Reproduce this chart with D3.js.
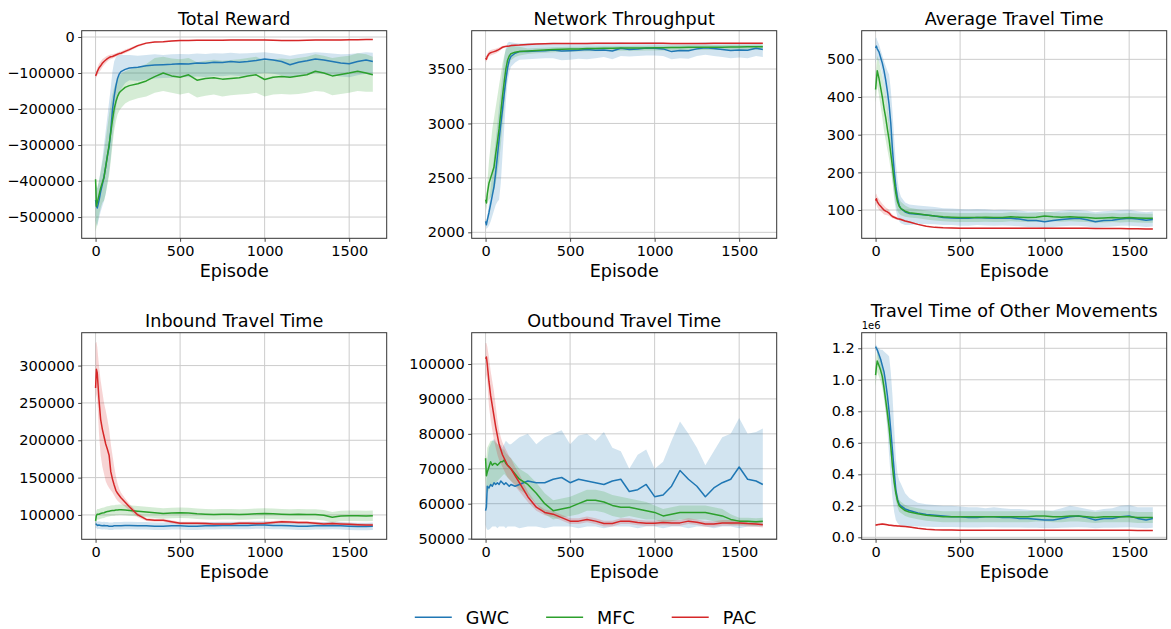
<!DOCTYPE html>
<html><head><meta charset="utf-8">
<script src="https://cdn.jsdelivr.net/npm/d3@7"></script>
<style>
body{margin:0;background:#fff}
svg{display:block}
text{font-family:"DejaVu Sans","Liberation Sans",sans-serif;fill:#000}
</style>
</head><body>
<svg id="chart" width="1171" height="629"></svg>
<script>
// ---------------- DATA ----------------
const episodes = [0,5,10,20,30,40,50,60,70,80,90,100,110,120,130,140,150,175,200,250,300,350,400,450,500,550,600,650,700,750,800,850,900,950,1000,1050,1100,1150,1200,1250,1300,1350,1400,1450,1500,1550,1600,1640];
const seriesNames = ["GWC","MFC","PAC"];
const xTicks = [0,500,1000,1500];

// Total Reward
const rewardTicks = [0,-100000,-200000,-300000,-400000,-500000];
const rewardGWC = [-453000,-470000,-475000,-455000,-430000,-410000,-388000,-360000,-330000,-305000,-260000,-202000,-165000,-137000,-115000,-103000,-96000,-90000,-86000,-84000,-80000,-78000,-77000,-76000,-74000,-75000,-72000,-73000,-70000,-71000,-68000,-70000,-68000,-65000,-61000,-64000,-68000,-77000,-70000,-66000,-61000,-64000,-68000,-72000,-74000,-68000,-64000,-68000];
const rewardGWCHi = [-400000,-415000,-420000,-400000,-370000,-340000,-300000,-260000,-220000,-180000,-140000,-95000,-68000,-56000,-52000,-50000,-50000,-50000,-50000,-52000,-50000,-48000,-50000,-48000,-47000,-48000,-46000,-47000,-45000,-46000,-44000,-46000,-45000,-44000,-42000,-45000,-48000,-52000,-48000,-45000,-42000,-44000,-46000,-48000,-47000,-45000,-42000,-44000];
const rewardGWCLo = [-510000,-520000,-525000,-505000,-485000,-470000,-455000,-435000,-405000,-375000,-335000,-285000,-240000,-200000,-170000,-155000,-145000,-128000,-120000,-122000,-118000,-115000,-114000,-113000,-111000,-112000,-110000,-111000,-108000,-109000,-106000,-108000,-106000,-103000,-100000,-102000,-106000,-113000,-108000,-104000,-100000,-102000,-106000,-110000,-112000,-106000,-102000,-106000];
const rewardMFC = [-395000,-470000,-460000,-440000,-420000,-405000,-390000,-360000,-330000,-300000,-265000,-230000,-200000,-180000,-165000,-155000,-150000,-140000,-135000,-130000,-122000,-110000,-100000,-108000,-112000,-105000,-120000,-115000,-113000,-117000,-115000,-113000,-108000,-105000,-118000,-112000,-110000,-112000,-108000,-105000,-95000,-100000,-108000,-104000,-100000,-95000,-100000,-105000];
const rewardMFCHi = [-385000,-410000,-420000,-400000,-375000,-350000,-320000,-285000,-250000,-215000,-185000,-160000,-140000,-125000,-115000,-108000,-102000,-95000,-90000,-85000,-75000,-58000,-55000,-60000,-62000,-58000,-70000,-66000,-63000,-66000,-64000,-62000,-58000,-55000,-65000,-62000,-60000,-62000,-58000,-55000,-48000,-52000,-58000,-55000,-52000,-45000,-48000,-55000];
const rewardMFCLo = [-540000,-530000,-520000,-495000,-475000,-460000,-455000,-435000,-410000,-385000,-345000,-300000,-260000,-235000,-215000,-205000,-198000,-185000,-178000,-170000,-165000,-155000,-150000,-155000,-160000,-155000,-168000,-163000,-160000,-165000,-162000,-160000,-158000,-155000,-165000,-160000,-158000,-160000,-158000,-155000,-150000,-152000,-162000,-158000,-155000,-150000,-152000,-152000];
const rewardPAC = [-108000,-103000,-96000,-86000,-80000,-73000,-68000,-64000,-60000,-57000,-55000,-54000,-52000,-50000,-48000,-46000,-45000,-40000,-35000,-24000,-17000,-14000,-13000,-11000,-10000,-9500,-9000,-9000,-9000,-9000,-8500,-8500,-8500,-8500,-8000,-9000,-10000,-10000,-9500,-9000,-8000,-8000,-8000,-8000,-7500,-7500,-7000,-7000];
const rewardPACHi = [-102000,-95000,-86000,-74000,-68000,-62000,-58000,-55000,-52000,-50000,-48500,-48000,-46500,-45000,-43000,-41000,-40000,-35000,-30500,-20500,-14500,-12500,-11500,-9500,-8500,-8000,-7500,-7500,-7500,-7500,-7000,-7000,-7000,-7000,-6500,-7500,-8500,-8500,-8000,-7500,-6500,-6500,-6500,-6500,-6000,-6000,-5500,-5500];
const rewardPACLo = [-114000,-111000,-106000,-98000,-92000,-84000,-78000,-73000,-68000,-64000,-61500,-60000,-57500,-55000,-53000,-51000,-50000,-45000,-39500,-27500,-19500,-15500,-14500,-12500,-11500,-11000,-10500,-10500,-10500,-10500,-10000,-10000,-10000,-10000,-9500,-10500,-11500,-11500,-11000,-10500,-9500,-9500,-9500,-9500,-9000,-9000,-8500,-8500];

// Network Throughput
const tpTicks = [2000,2500,3000,3500];
const tpGWC = [2100,2070,2110,2180,2260,2340,2420,2550,2700,2850,2990,3125,3270,3400,3510,3580,3615,3645,3660,3662,3665,3668,3675,3665,3668,3672,3680,3672,3675,3665,3690,3680,3685,3692,3690,3685,3660,3670,3668,3685,3695,3688,3680,3670,3675,3672,3690,3680];
const tpGWCHi = [2130,2110,2150,2260,2400,2550,2700,2850,3000,3150,3300,3450,3600,3700,3740,3750,3745,3738,3735,3738,3740,3740,3742,3740,3738,3740,3742,3740,3742,3740,3745,3742,3742,3745,3745,3742,3735,3738,3738,3742,3745,3742,3740,3738,3738,3736,3740,3725];
const tpGWCLo = [2060,2030,2040,2060,2100,2150,2200,2250,2280,2300,2450,2700,2950,3200,3380,3470,3520,3560,3585,3590,3595,3600,3600,3580,3585,3595,3590,3600,3610,3590,3620,3615,3620,3625,3625,3620,3590,3600,3595,3620,3630,3620,3610,3600,3605,3600,3620,3610];
const tpMFC = [2300,2270,2350,2450,2500,2550,2600,2720,2830,2950,3100,3250,3380,3500,3580,3620,3640,3655,3660,3665,3670,3675,3680,3682,3685,3685,3688,3688,3690,3690,3692,3692,3693,3694,3695,3695,3697,3698,3700,3700,3700,3700,3700,3702,3703,3704,3705,3705];
const tpMFCHi = [2350,2330,2450,2650,2800,2950,3050,3150,3250,3350,3450,3550,3620,3680,3700,3710,3715,3710,3705,3688,3692,3696,3700,3702,3705,3705,3708,3708,3710,3710,3712,3712,3713,3714,3715,3715,3717,3718,3720,3720,3720,3720,3720,3722,3723,3724,3725,3725];
const tpMFCLo = [2250,2200,2260,2300,2320,2350,2380,2450,2550,2650,2800,2980,3150,3330,3460,3540,3580,3610,3625,3638,3645,3650,3655,3657,3660,3660,3663,3663,3665,3665,3667,3667,3668,3669,3670,3670,3672,3673,3675,3675,3675,3675,3675,3677,3678,3679,3680,3680];
const tpPAC = [3600,3590,3615,3640,3650,3655,3660,3665,3672,3680,3690,3700,3705,3708,3710,3712,3715,3718,3720,3726,3730,3732,3734,3734,3735,3735,3735,3736,3736,3736,3736,3736,3736,3736,3736,3736,3735,3735,3735,3735,3735,3736,3736,3736,3736,3736,3736,3736];
const tpPACHi = [3620,3615,3640,3665,3675,3680,3685,3687,3692,3698,3705,3712,3715,3718,3718,3720,3723,3725,3726,3731,3735,3737,3739,3739,3740,3740,3740,3741,3741,3741,3741,3741,3741,3741,3741,3741,3740,3740,3740,3740,3740,3741,3741,3741,3741,3741,3741,3741];
const tpPACLo = [3580,3565,3590,3615,3625,3630,3635,3643,3652,3662,3675,3688,3695,3698,3702,3704,3707,3711,3714,3721,3725,3727,3729,3729,3730,3730,3730,3731,3731,3731,3731,3731,3731,3731,3731,3731,3730,3730,3730,3730,3730,3731,3731,3731,3731,3731,3731,3731];

// Average Travel Time
const attTicks = [100,200,300,400,500];
const attGWC = [530,535,528,520,505,490,470,445,415,380,330,260,205,162,130,112,104,95,91,89,87,84,80,79,78,78,80,79,78,79,78,76,72,72,69,72,75,77,78,74,69,72,73,76,78,76,73,75];
const attGWCHi = [555,558,550,540,525,510,495,482,470,460,420,360,290,225,180,150,135,120,115,112,110,108,105,104,103,102,103,102,100,101,100,99,96,96,94,96,98,100,100,98,94,97,98,100,101,97,94,96];
const attGWCLo = [490,500,500,495,480,460,430,400,360,310,250,180,130,100,80,70,65,60,60,62,63,62,60,60,58,58,60,59,58,59,58,57,55,55,53,55,57,58,58,56,53,55,56,58,58,57,55,56];
const attMFC = [420,445,470,450,425,400,370,345,315,286,250,215,178,144,122,110,104,97,93,90,87,84,82,81,80,80,80,81,80,80,82,81,80,81,84,82,81,82,81,80,78,79,80,79,80,79,78,78];
const attMFCHi = [455,485,510,495,475,455,430,405,370,336,295,255,213,174,147,130,122,112,106,102,99,96,94,93,92,92,92,93,92,92,94,93,92,93,96,94,93,94,93,92,90,91,92,91,92,91,90,90];
const attMFCLo = [385,405,430,405,375,345,310,285,260,236,205,175,143,114,97,90,86,82,80,78,75,72,70,69,68,68,68,69,68,68,70,69,68,69,72,70,69,70,69,68,66,67,68,67,68,67,66,66];
const attPAC = [125,130,122,115,110,105,100,97,95,92,87,83,81,79,77,76,75,71,68,62,57,54,53,52.5,52,52,52,52,52,52,52,52,52,52,52,52,52,52,52,51.5,51,51,51,51,50.5,50.5,50,50];
const attPACHi = [139,144,136,129,123,117,112,107,104,100,93,88,85,83,80,79,78,73.5,70,63.5,58.5,55.5,54.5,54,53.5,53.5,53.5,53.5,53.5,53.5,53.5,53.5,53.5,53.5,53.5,53.5,53.5,53.5,53.5,53,52.5,52.5,52.5,52.5,52,52,51.5,51.5];
const attPACLo = [111,116,108,101,97,93,88,87,86,84,81,78,77,75,74,73,72,68.5,66,60.5,55.5,52.5,51.5,51,50.5,50.5,50.5,50.5,50.5,50.5,50.5,50.5,50.5,50.5,50.5,50.5,50.5,50.5,50.5,50,49.5,49.5,49.5,49.5,49,49,48.5,48.5];

// Inbound Travel Time
const inTicks = [100000,150000,200000,250000,300000];
const inGWC = [88000,87500,86000,86500,86000,85500,86000,85500,85500,85000,85000,85000,85500,85500,85500,85500,85500,86000,86000,85500,85500,85000,85000,85500,85500,85000,85000,85500,85500,86000,86000,86000,86000,86500,86500,86000,86000,85500,85000,85000,85500,85500,86000,85500,85000,84500,84500,85000];
const inGWCHi = [93000,92500,91000,91500,91000,90500,91000,90500,90500,90000,90000,90000,90500,90500,90500,90500,90500,91000,91000,90500,90500,90000,90000,90500,90500,90000,90000,90500,90500,91000,91000,91000,91000,91500,91500,91000,91000,90500,90000,90000,90500,90500,91000,90500,90000,89500,89500,90000];
const inGWCLo = [83000,82500,81000,81500,81000,80500,81000,80500,80500,80000,80000,80000,80500,80500,80500,80500,80500,81000,81000,80500,80500,80000,80000,80500,80500,80000,80000,80500,80500,81000,81000,81000,81000,81500,81500,81000,81000,80500,80000,80000,80500,80500,81000,80500,80000,79500,79500,80000];
const inMFC = [92000,99000,101000,101000,102000,102500,103000,104000,104500,105000,105500,106000,106000,106500,106500,107000,107000,106500,106000,105000,104000,103000,102000,102500,103000,102500,101500,101000,100500,101000,101000,100500,101000,101500,102000,101500,101000,100500,101000,100500,100500,99500,97000,98500,99000,99000,98500,99000];
const inMFCHi = [99000,106000,108000,108000,109000,109500,110000,111000,111500,112000,112500,113000,113000,113500,113500,114000,114000,113500,113000,112000,111000,110000,109000,109500,110000,109500,108500,108000,107500,108000,108000,107500,108000,108500,109000,108500,108000,107500,108000,107500,107500,106500,104000,105500,106000,106000,105500,106000];
const inMFCLo = [85000,92000,94000,94000,95000,95500,96000,97000,97500,98000,98500,99000,99000,99500,99500,100000,100000,99500,99000,98000,97000,96000,95000,95500,96000,95500,94500,94000,93500,94000,94000,93500,94000,94500,95000,94500,94000,93500,94000,93500,93500,92500,90000,91500,92000,92000,91500,92000];
const inPAC = [270000,295000,290000,255000,228000,215000,205000,195000,188000,180000,158000,148000,140000,133000,129000,126000,123000,117000,111000,100000,94000,93000,93000,91000,89000,89000,89000,88500,88000,88000,88000,89000,89000,88500,89000,90000,91000,90500,90000,90000,89000,88000,88500,88000,87500,87000,86500,86500];
const inPACHi = [330000,332000,325000,300000,280000,265000,250000,240000,228000,215000,195000,180000,165000,152000,142000,135000,130000,122000,115000,103000,96000,95000,95000,93000,91000,91000,91000,90500,90000,90000,90000,91000,91000,90500,91000,92000,93000,92500,92000,92000,91000,90000,90500,90000,89500,89000,88500,88500];
const inPACLo = [250000,262000,255000,210000,180000,165000,155000,145000,140000,136000,133000,130000,126000,122000,119000,117000,115000,111000,106000,97000,92000,91000,91000,89000,87000,87000,87000,86500,86000,86000,86000,87000,87000,86500,87000,88000,89000,88500,88000,88000,87000,86000,86500,86000,85500,85000,84500,84500];

// Outbound Travel Time
const outTicks = [50000,60000,70000,80000,90000,100000];
const outGWC = [58000,59000,65000,64500,65500,65000,66000,65500,66000,65500,66500,66000,65500,66000,65500,65000,65500,65000,65500,66500,66000,66000,67000,67500,66000,67000,66500,66000,65500,66500,67000,63500,64000,65500,62000,62500,65000,69500,67000,65000,62000,64500,66000,67000,70500,67000,66500,65500];
const outGWCHi = [62000,66000,72000,76000,77000,78000,78500,78000,77000,76500,77000,76000,77000,78000,77500,77000,77000,78000,79000,80000,77000,79000,80000,81000,77000,79500,80000,78000,80500,76000,75000,70000,74000,75500,70000,72000,78000,83500,80000,76000,71000,75000,79000,80000,84500,80000,80500,81500];
const outGWCLo = [54000,53000,52500,52500,53000,53500,53500,53500,53000,53500,53500,53500,53500,53000,53500,53500,53500,53500,53000,53500,53500,53000,53500,53500,53500,53000,53500,53500,53000,53500,53500,53500,53000,53500,53500,53000,53500,53500,53000,53500,53500,53000,53500,53500,53000,53500,53500,53500];
const outMFC = [73000,68000,69000,70500,72000,71000,71500,71500,71000,71500,72000,72000,72500,71500,71000,70500,70000,68500,67000,65500,63000,60000,58000,58500,59000,60000,61000,61000,60500,59500,59000,59000,58500,58000,57500,56500,57000,57500,57500,57500,57500,57000,56500,55500,55000,55000,54800,55000];
const outMFCHi = [74000,73000,76000,77000,78000,78000,78000,77500,77000,76500,76000,75500,75500,74500,74000,73500,73000,71500,70000,68500,66000,63000,61000,61500,62000,63000,64000,64000,63500,62500,62000,61500,61000,60500,59500,58500,59000,59500,59500,59500,59500,59000,58500,57000,56000,56000,55800,56000];
const outMFCLo = [67000,64000,63000,64000,65000,65000,65500,66000,66500,67000,67500,68000,68500,68000,67500,67000,66500,65500,64000,62500,60000,57000,55500,56000,56500,57000,58000,58000,57500,56500,56000,56500,56000,55500,55500,54500,55000,55500,55500,55500,55500,55000,54500,54000,54000,53800,53700,54000];
const outPAC = [101500,102000,100000,95000,91000,88000,85000,82000,79500,77000,75500,74000,73000,72000,71000,70500,70000,68000,66000,62000,59000,57500,57000,56000,55000,55000,55500,55000,54300,54300,55000,55000,54600,54400,54400,54600,54500,54500,55000,54700,54200,54200,54500,54500,54500,54300,54200,54000];
const outPACHi = [106000,106000,105000,102000,98000,95000,92000,88000,84000,81000,79000,77500,76500,75500,74500,73500,73000,70500,68500,63500,60000,58300,57800,56800,55800,55800,56300,55800,55100,55100,55800,55800,55400,55200,55200,55400,55300,55300,55800,55500,55000,55000,55300,55300,55300,55100,55000,54800];
const outPACLo = [95000,97000,95000,88000,84000,81000,78000,76000,74000,72500,71500,70500,69500,68500,67500,67000,66500,65000,63500,60500,58000,56700,56200,55200,54200,54200,54700,54200,53500,53500,54200,54200,53800,53600,53600,53800,53700,53700,54200,53900,53400,53400,53700,53700,53700,53500,53400,53200];

// Travel Time of Other Movements
const otherTicks = [0,200000,400000,600000,800000,1000000,1200000];
const otherGWC = [1210000,1200000,1190000,1160000,1130000,1090000,1050000,980000,900000,800000,680000,550000,420000,300000,240000,210000,200000,180000,170000,155000,145000,140000,135000,130000,130000,125000,125000,130000,130000,125000,125000,120000,120000,115000,110000,110000,120000,130000,135000,125000,110000,120000,120000,130000,135000,120000,110000,120000];
const otherGWCHi = [1225000,1220000,1210000,1200000,1190000,1190000,1180000,1170000,1160000,1150000,1050000,900000,700000,500000,400000,360000,340000,280000,250000,220000,210000,205000,200000,200000,195000,190000,190000,185000,190000,185000,180000,180000,175000,170000,170000,170000,185000,200000,190000,180000,170000,180000,185000,200000,205000,190000,190000,190000];
const otherGWCLo = [1190000,1180000,1160000,1100000,1040000,980000,900000,800000,680000,520000,380000,250000,160000,110000,90000,80000,75000,70000,70000,68000,67000,66000,65000,65000,64000,63000,63000,64000,64000,63000,62000,62000,61000,60000,58000,58000,60000,62000,64000,62000,58000,60000,61000,62000,64000,60000,58000,60000];
const otherMFC = [1030000,1080000,1120000,1090000,1060000,1020000,950000,870000,790000,700000,580000,450000,350000,280000,230000,200000,190000,170000,160000,150000,140000,135000,130000,130000,130000,130000,130000,130000,130000,130000,130000,130000,130000,135000,135000,130000,130000,135000,135000,130000,125000,130000,130000,130000,130000,125000,125000,125000];
const otherMFCHi = [1100000,1150000,1190000,1160000,1130000,1090000,1020000,940000,860000,770000,640000,505000,400000,325000,270000,238000,226000,205000,195000,185000,175000,170000,165000,165000,165000,165000,165000,165000,165000,165000,165000,165000,165000,170000,170000,165000,165000,170000,170000,165000,160000,165000,165000,165000,165000,160000,160000,160000];
const otherMFCLo = [960000,1010000,1050000,1020000,990000,950000,880000,800000,720000,630000,520000,395000,300000,235000,190000,162000,154000,135000,125000,115000,105000,100000,95000,95000,95000,95000,95000,95000,95000,95000,95000,95000,95000,100000,100000,95000,95000,100000,100000,95000,90000,95000,95000,95000,95000,90000,90000,90000];
const otherPAC = [80000,78000,80000,82000,83000,84000,83000,81000,79000,77000,76000,75000,74000,73000,72000,71000,70000,68000,65000,57000,51000,48000,47000,46000,45000,45000,45000,45000,45000,45000,45000,45000,45000,45000,45000,45000,45000,45000,44500,44500,44500,44000,44000,44000,44000,43500,43500,43000];
const otherPACHi = [86000,84000,86000,88000,89000,90000,89000,87000,85000,83000,82000,81000,80000,79000,78000,77000,76000,72000,69000,60000,54000,51000,50000,49000,48000,48000,48000,48000,48000,48000,48000,48000,48000,48000,48000,48000,48000,48000,47500,47500,47500,47000,47000,47000,47000,46500,46500,46000];
const otherPACLo = [74000,72000,74000,76000,77000,78000,77000,75000,73000,71000,70000,69000,68000,67000,66000,65000,64000,64000,61000,54000,48000,45000,44000,43000,42000,42000,42000,42000,42000,42000,42000,42000,42000,42000,42000,42000,42000,42000,41500,41500,41500,41000,41000,41000,41000,40500,40500,40000];

// ---------------- STYLE / LAYOUT ----------------
const colors = ["#1f77b4","#2ca02c","#d62728"];
const colX = [[81.7,386.7],[471.7,776.7],[861.7,1166.7]];
const rowY = [[30.7,238.3],[332.7,539.3]];
const xDomain = [-82,1722];
const minus = v => (v < 0 ? "\u2212" : "") + Math.abs(v);

const panels = [
  {title:"Total Reward", col:0,row:0, domain:[-559000,17500], ticks:rewardTicks, fmt:minus,
   series:[[rewardGWC,rewardGWCLo,rewardGWCHi],[rewardMFC,rewardMFCLo,rewardMFCHi],[rewardPAC,rewardPACLo,rewardPACHi]]},
  {title:"Network Throughput", col:1,row:0, domain:[1945,3852], ticks:tpTicks, fmt:d=>String(d),
   series:[[tpGWC,tpGWCLo,tpGWCHi],[tpMFC,tpMFCLo,tpMFCHi],[tpPAC,tpPACLo,tpPACHi]]},
  {title:"Average Travel Time", col:2,row:0, domain:[25,576], ticks:attTicks, fmt:d=>String(d),
   series:[[attGWC,attGWCLo,attGWCHi],[attMFC,attMFCLo,attMFCHi],[attPAC,attPACLo,attPACHi]]},
  {title:"Inbound Travel Time", col:0,row:1, domain:[67400,344000], ticks:inTicks, fmt:d=>String(d),
   series:[[inGWC,inGWCLo,inGWCHi],[inMFC,inMFCLo,inMFCHi],[inPAC,inPACLo,inPACHi]]},
  {title:"Outbound Travel Time", col:1,row:1, domain:[49800,108960], ticks:outTicks, fmt:d=>String(d),
   series:[[outGWC,outGWCLo,outGWCHi],[outMFC,outMFCLo,outMFCHi],[outPAC,outPACLo,outPACHi]]},
  {title:"Travel Time of Other Movements", col:2,row:1, domain:[-12700,1299000], ticks:otherTicks, fmt:d=>(d/1e6).toFixed(1), offset:"1e6",
   series:[[otherGWC,otherGWCLo,otherGWCHi],[otherMFC,otherMFCLo,otherMFCHi],[otherPAC,otherPACLo,otherPACHi]]}
];

// ---------------- DRAW ----------------
const svg = d3.select("#chart");
const gridColor = "#cccccc", spineColor = "#333333";

panels.forEach((p, pi) => {
  const [x0, x1] = colX[p.col], [y0, y1] = rowY[p.row];
  const x = d3.scaleLinear().domain(xDomain).range([x0, x1]);
  const y = d3.scaleLinear().domain(p.domain).range([y1, y0]);
  const g = svg.append("g");

  // grid
  g.append("g").selectAll("line").data(xTicks).join("line")
    .attr("x1", d => x(d)).attr("x2", d => x(d)).attr("y1", y0).attr("y2", y1)
    .attr("stroke", gridColor).attr("stroke-width", 1);
  g.append("g").selectAll("line").data(p.ticks).join("line")
    .attr("x1", x0).attr("x2", x1).attr("y1", d => y(d)).attr("y2", d => y(d))
    .attr("stroke", gridColor).attr("stroke-width", 1);

  // clip
  const cid = "clip" + pi;
  svg.append("clipPath").attr("id", cid).append("rect")
    .attr("x", x0).attr("y", y0).attr("width", x1 - x0).attr("height", y1 - y0);
  const plot = g.append("g").attr("clip-path", `url(#${cid})`);

  p.series.forEach(([mean, lo, hi], si) => {
    const pts = episodes.map((e, i) => ({e, l: lo[i], h: hi[i]}));
    const area = d3.area().x(d => x(d.e)).y0(d => y(d.l)).y1(d => y(d.h));
    plot.append("path").attr("d", area(pts)).attr("fill", colors[si]).attr("fill-opacity", 0.2).attr("stroke", "none");
  });
  p.series.forEach(([mean], si) => {
    const pts = episodes.map((e, i) => ({e, m: mean[i]}));
    const line = d3.line().x(d => x(d.e)).y(d => y(d.m));
    plot.append("path").attr("d", line(pts)).attr("fill", "none")
      .attr("stroke", colors[si]).attr("stroke-width", 1.5).attr("stroke-linejoin", "round");
  });

  // frame
  g.append("rect").attr("x", x0).attr("y", y0).attr("width", x1 - x0).attr("height", y1 - y0)
    .attr("fill", "none").attr("stroke", spineColor).attr("stroke-width", 1);

  // axes
  const ax = g.append("g").attr("transform", `translate(0,${y1})`)
    .call(d3.axisBottom(x).tickValues(xTicks).tickFormat(d => String(d)).tickSize(3.5).tickPadding(3.5));
  const ay = g.append("g").attr("transform", `translate(${x0},0)`)
    .call(d3.axisLeft(y).tickValues(p.ticks).tickFormat(p.fmt).tickSize(3.5).tickPadding(3.5));
  [ax, ay].forEach(a => {
    a.attr("font-family", null).attr("font-size", null);
    a.select(".domain").remove();
    a.selectAll(".tick line").attr("stroke", spineColor).attr("stroke-width", 0.9);
    a.selectAll(".tick text").attr("fill", "#000").style("font-size", "14.5px")
      .style("font-family", '"DejaVu Sans", sans-serif');
  });

  // title (raised when an offset label sits above the axes) + xlabel
  g.append("text").attr("x", (x0 + x1) / 2).attr("y", p.offset ? y0 - 16 : y0 - 6).attr("text-anchor", "middle")
    .style("font-size", "17.6px").text(p.title);
  g.append("text").attr("x", (x0 + x1) / 2).attr("y", y1 + 38.5).attr("text-anchor", "middle")
    .style("font-size", "17.6px").text("Episode");
  if (p.offset) {
    g.append("text").attr("x", x0).attr("y", y0 - 3.5).style("font-size", "10px").text(p.offset);
  }
});

// legend
const legY = 617.3, handleLen = 37, handlePad = 14, colGap = 37;
const leg = svg.append("g");
const items = seriesNames.map((n, i) => {
  const gi = leg.append("g");
  gi.append("line").attr("x1", 0).attr("x2", handleLen).attr("y1", legY).attr("y2", legY)
    .attr("stroke", colors[i]).attr("stroke-width", 1.5);
  const t = gi.append("text").attr("x", handleLen + handlePad).attr("y", legY).attr("dy", "0.36em")
    .style("font-size", "17.6px").text(n);
  return {gi, w: handleLen + handlePad + t.node().getComputedTextLength()};
});
const totalW = d3.sum(items, d => d.w) + colGap * (items.length - 1);
let cx = 1171 / 2 - totalW / 2;
items.forEach(it => { it.gi.attr("transform", `translate(${cx},0)`); cx += it.w + colGap; });
</script>
</body></html>
